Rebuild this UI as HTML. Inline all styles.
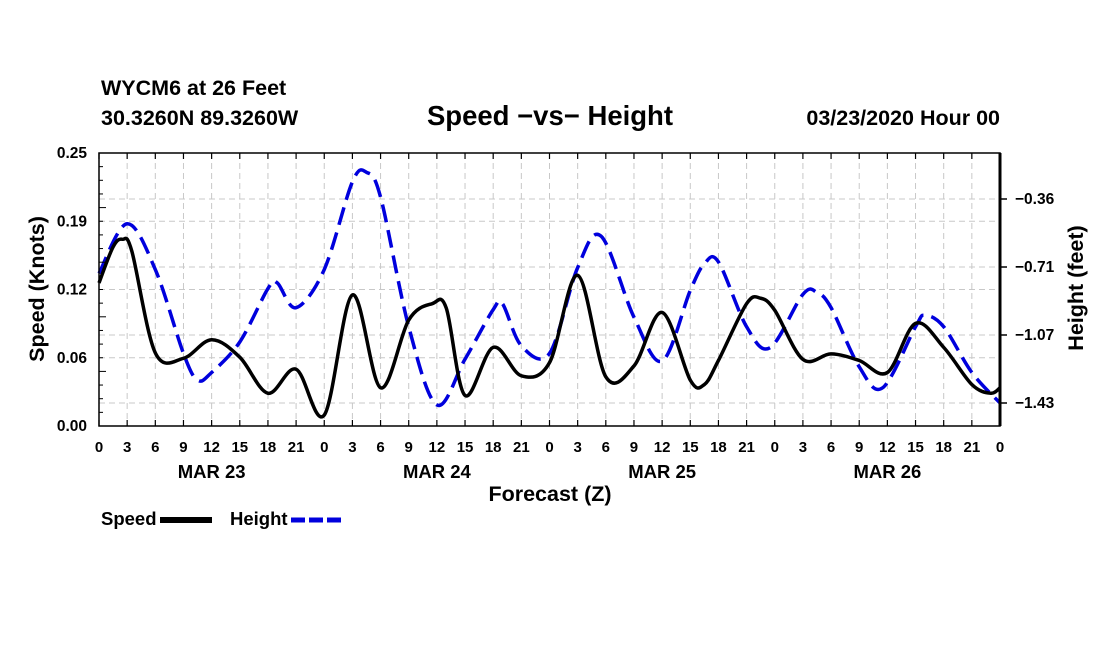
<!DOCTYPE html>
<html><head><meta charset="utf-8"><style>
body{margin:0;background:#fff;}
svg text{font-family:"Liberation Sans",sans-serif;font-weight:bold;fill:#000;}
</style></head><body>
<svg id="chart" width="1100" height="650" xmlns="http://www.w3.org/2000/svg">
<rect width="1100" height="650" fill="#fff"/>
<text x="101" y="95" font-size="21.5">WYCM6 at 26 Feet</text>
<text x="101" y="125" font-size="21.5">30.3260N 89.3260W</text>
<text x="550" y="125" font-size="27.5" text-anchor="middle">Speed −vs− Height</text>
<text x="1000" y="125" font-size="21.5" text-anchor="end">03/23/2020 Hour 00</text>
<g id="grid"></g>
<g id="series"></g>
<g id="axes"></g>
<text transform="translate(44,289) rotate(-90)" font-size="21.5" text-anchor="middle">Speed (Knots)</text>
<text transform="translate(1083,288) rotate(-90)" font-size="21.5" text-anchor="middle">Height (feet)</text>
<text x="550" y="501" font-size="21.5" text-anchor="middle">Forecast (Z)</text>
<g>
<text x="101" y="525" font-size="18.5">Speed</text>
<line x1="160" y1="520" x2="212" y2="520" stroke="#000" stroke-width="6"/>
<text x="230" y="525" font-size="18.5">Height</text>
<line x1="291" y1="520" x2="342" y2="520" stroke="#0000dd" stroke-width="5" stroke-dasharray="14,4"/>
</g>
</svg>
<script>
const speedHours=[0,1.5,2.5,3.5,6,9,12,15,18,21,24,27,30,33,35.5,37,39,42,45,48,51,54,57,60,63,64.5,66,69,70.5,72,75,78,81,84,87,90,93,95,96];
const speedValues=[0.131,0.164,0.171,0.160,0.067,0.062,0.079,0.063,0.030,0.052,0.010,0.120,0.035,0.097,0.112,0.108,0.028,0.072,0.046,0.058,0.138,0.045,0.055,0.104,0.042,0.038,0.060,0.112,0.117,0.106,0.061,0.066,0.060,0.049,0.094,0.072,0.038,0.030,0.035];
const heightHours=[0,3,6,9,10.5,12,15,18,19,21,24,27,28.5,30,33,36,39,42,43,45,48,51,53.5,57,60,63,64.5,66,69,71.5,75,76.5,78,81,83.5,87,88,90,93,96];
const heightValues=[-0.75,-0.49,-0.73,-1.17,-1.31,-1.27,-1.11,-0.83,-0.80,-0.93,-0.73,-0.27,-0.22,-0.35,-1.03,-1.44,-1.20,-0.94,-0.91,-1.13,-1.17,-0.72,-0.555,-0.98,-1.21,-0.84,-0.70,-0.69,-1.03,-1.14,-0.86,-0.85,-0.93,-1.24,-1.35,-1.03,-0.97,-1.03,-1.27,-1.43];
const leftTicks=[0,0.0625,0.125,0.1875,0.25];
const leftTickLabels=["0.00","0.06","0.12","0.19","0.25"];
const rightTicks=[-0.36,-0.7167,-1.0733,-1.43];
const rightTickLabels=["−0.36","−0.71","−1.07","−1.43"];
const dayLabels=["MAR 23","MAR 24","MAR 25","MAR 26"];

const NS="http://www.w3.org/2000/svg";
const X0=99,X1=1000,Y0=153,Y1=426;
const xs=h=>X0+(X1-X0)*h/96;
const yL=v=>Y1-(Y1-Y0)*v/0.25;
const yR=v=>199+(v+0.36)*(403-199)/(-1.43+0.36);
function mk(tag,attrs,parent){const e=document.createElementNS(NS,tag);for(const k in attrs)e.setAttribute(k,attrs[k]);parent.appendChild(e);return e;}
const grid=document.getElementById('grid'),axes=document.getElementById('axes'),series=document.getElementById('series');
for(let h=3;h<96;h+=3){const l=mk('line',{x1:xs(h),x2:xs(h),y1:Y0,y2:Y1,stroke:'#c8c8c8','stroke-dasharray':'6,4'},grid);
}
leftTicks.slice(1,-1).forEach(v=>{const l=mk('line',{x1:X0,x2:X1,y1:yL(v),y2:yL(v),stroke:'#c8c8c8','stroke-dasharray':'6,4'},grid);
});
rightTicks.forEach(v=>{const l=mk('line',{x1:X0,x2:X1,y1:yR(v),y2:yR(v),stroke:'#c8c8c8','stroke-dasharray':'6,4'},grid);
});
function path(hs,vs,yf){const p=hs.map((h,i)=>[xs(h),yf(vs[i])]);let d=`M${p[0][0]},${p[0][1]}`;
for(let i=0;i<p.length-1;i++){const a=p[i-1]||p[i],b=p[i],c=p[i+1],e=p[i+2]||c;
d+=` C${b[0]+(c[0]-a[0])/6},${b[1]+(c[1]-a[1])/6} ${c[0]-(e[0]-b[0])/6},${c[1]-(e[1]-b[1])/6} ${c[0]},${c[1]}`;}return d;}
const hp=mk('path',{d:path(heightHours,heightValues,yR),fill:'none',stroke:'#0000dd','stroke-width':3.5,'stroke-dasharray':'18,8'},series);

const sp=mk('path',{d:path(speedHours,speedValues,yL),fill:'none',stroke:'#000','stroke-width':3.5},series);

const fr=mk('rect',{x:X0,y:Y0,width:X1-X0,height:Y1-Y0,fill:'none',stroke:'#000','stroke-width':1.5},axes);

const ra=mk('line',{x1:X1,x2:X1,y1:Y0,y2:Y1,stroke:'#000','stroke-width':3},axes);

for(let h=0;h<=96;h+=3){
mk('line',{x1:xs(h),x2:xs(h),y1:Y1,y2:Y1-6,stroke:'#000','stroke-width':1.2},axes);
mk('line',{x1:xs(h),x2:xs(h),y1:Y0,y2:Y0+6,stroke:'#000','stroke-width':1.2},axes);
const t=mk('text',{x:xs(h),y:452,'font-size':15,'text-anchor':'middle'},axes);t.textContent=String(h%24);
}
dayLabels.forEach((s,i)=>{const t=mk('text',{x:xs(12+24*i),y:478,'font-size':18.5,'text-anchor':'middle'},axes);t.textContent=s;
});
for(let k=0;k<=20;k++){const y=Y1-(Y1-Y0)*k/20;mk('line',{x1:X0,x2:X0+(k%4?4:7),y1:y,y2:y,stroke:'#000'},axes);}
leftTicks.forEach((v,i)=>{const t=mk('text',{x:87,y:yL(v)+5,'font-size':15.5,'text-anchor':'end'},axes);t.textContent=leftTickLabels[i];
});
rightTicks.forEach((v,i)=>{mk('line',{x1:X1,x2:X1+7,y1:yR(v),y2:yR(v),stroke:'#000','stroke-width':1.5},axes);
const t=mk('text',{x:1015,y:yR(v)+5,'font-size':15.5},axes);t.textContent=rightTickLabels[i];
});
</script>
</body></html>
